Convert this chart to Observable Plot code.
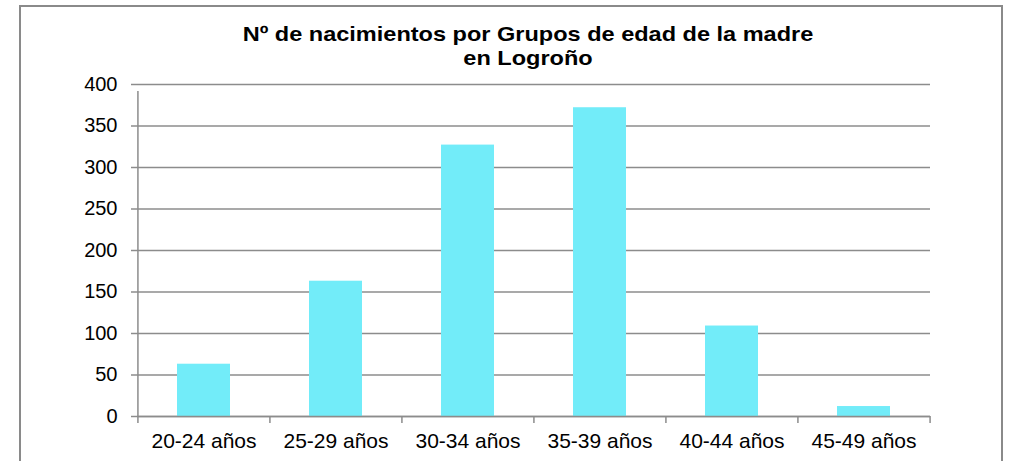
<!DOCTYPE html>
<html>
<head>
<meta charset="utf-8">
<script src="https://cdn.jsdelivr.net/npm/d3@7"></script>
<script src="https://cdn.jsdelivr.net/npm/@observablehq/plot@0.6"></script>
<style>
  html, body { margin: 0; padding: 0; background: #fff; }
  #wrap { position: relative; width: 1011px; height: 461px; overflow: hidden; font-family: "Liberation Sans", Arial, sans-serif; }
  #border { position: absolute; left: 19px; top: 5px; width: 984px; height: 480px; border: 2px solid #8a8a8a; box-sizing: border-box; }
  #title { position: absolute; left: 228px; width: 600px; top: 22px; text-align: center; font-weight: bold; font-size: 21px; line-height: 23.5px; color: #000; transform: scaleX(1.12); transform-origin: 300px 0; }
  #chart { position: absolute; left: 0; top: 0; }
</style>
</head>
<body>
<div id="wrap">
  <div id="border"></div>
  <div id="title">Nº de nacimientos por Grupos de edad de la madre<br>en Logroño</div>
  <div id="chart"></div>
</div>
<script>
const categories = ["20-24 años", "25-29 años", "30-34 años", "35-39 años", "40-44 años", "45-49 años"];
const values = [63, 163, 327, 372, 109, 12];
const yTicks = [0, 50, 100, 150, 200, 250, 300, 350, 400];

const data = categories.map((c, i) => ({cat: c, value: values[i]}));

const W = 1011, H = 461;
const mL = 137, mR = 81;
const band = (W - mL - mR) / categories.length;
const gray = "#8c8c8c";

const plot = Plot.plot({
  width: W,
  height: H,
  marginLeft: mL,
  marginRight: mR,
  marginTop: 84,
  marginBottom: 45,
  style: {fontFamily: "'Liberation Sans', Arial, sans-serif", fontSize: "20px", color: "#000", background: "transparent", overflow: "visible"},
  x: {domain: categories, paddingInner: 0.6, paddingOuter: 0.3, align: 0.5, label: null},
  y: {domain: [0, 400], label: null},
  marks: [
    Plot.gridY(yTicks, {stroke: gray, strokeOpacity: 1, strokeWidth: 1.5}),
    Plot.barY(data, {x: "cat", y: "value", fill: "#72ecf9"}),
    Plot.ruleY([0], {stroke: gray, strokeWidth: 1.5}),
    Plot.ruleX(categories, {x: d => d, y1: 0, y2: 0, dx: -band / 2, stroke: gray, strokeWidth: 1.5, insetBottom: -7}),
    Plot.ruleX([categories[categories.length - 1]], {x: d => d, y1: 0, y2: 0, dx: band / 2, stroke: gray, strokeWidth: 1.5, insetBottom: -7}),
    Plot.ruleX([categories[0]], {x: d => d, y1: 0, y2: 400, dx: -band / 2, stroke: gray, strokeWidth: 1.5, insetBottom: -7}),
    Plot.axisY(yTicks, {tickSize: 6, tickPadding: 14, stroke: gray, strokeWidth: 1.5, fill: "#000", fontSize: 20}),
    Plot.axisX({tickSize: 0, tickPadding: 17, fill: "#000", fontSize: 21})
  ]
});
document.getElementById("chart").appendChild(plot);
</script>
</body>
</html>
